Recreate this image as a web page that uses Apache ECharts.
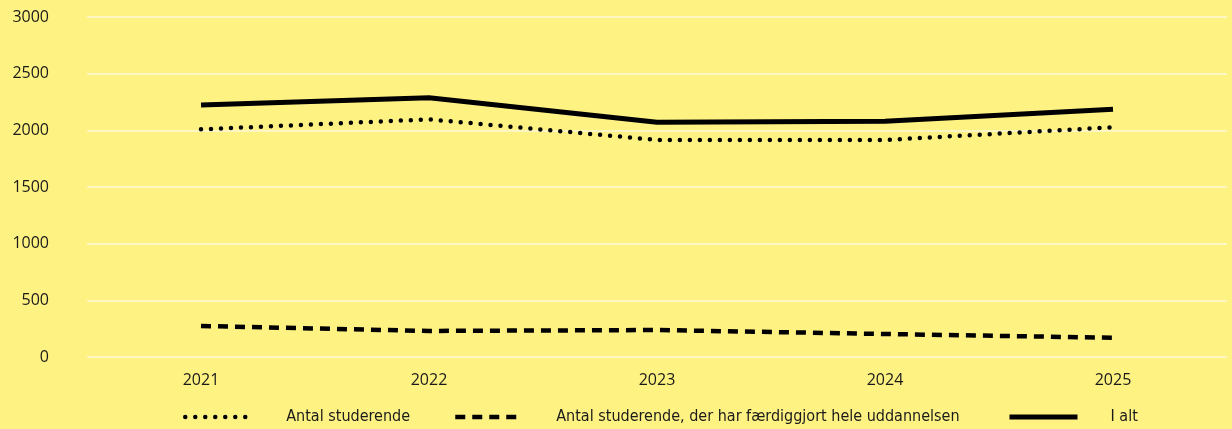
<!DOCTYPE html>
<html>
<head>
<meta charset="utf-8">
<script src="https://cdn.jsdelivr.net/npm/echarts@6/dist/echarts.min.js"></script>
<style>
html,body{margin:0;padding:0;background:#fef283;}
#c{width:1232px;height:429px;}
</style>
</head>
<body>
<div id="c"></div>
<script>
const categories = ['2021', '2022', '2023', '2024', '2025'];
const studerende = [2009, 2097, 1915, 1915, 2027];
const faerdige = [274, 230, 238, 203, 170];
const iAlt = [2224, 2288, 2071, 2080, 2186];
const seriesNames = ['Antal studerende', 'Antal studerende, der har færdiggjort hele uddannelsen', 'I alt'];
const yTicks = { min: 0, max: 3000, interval: 500 };

const chart = echarts.init(document.getElementById('c'), null, { renderer: 'canvas' });
const axisFont = '"Open Sans", Inter, sans-serif';
const legendFont = '"Liberation Sans Narrow", "DejaVu Sans Condensed", sans-serif';
const textColor = '#1a1a1a';

const dotted = { color: '#000', width: 4.5, type: [0, 10], cap: 'round' };
const dashed = { color: '#000', width: 4.5, type: [10, 7], cap: 'butt' };
const solid = { color: '#000', width: 5, type: 'solid', cap: 'butt' };

function legend(name, left, ls) {
  return {
    data: [name],
    left: left,
    top: 409,
    padding: 0,
    itemWidth: 68,
    itemHeight: 14,
    itemStyle: { opacity: 0 },
    lineStyle: Object.assign({}, ls),
    textStyle: { fontFamily: legendFont, fontSize: 16, color: textColor, padding: [0, 0, 0, 28] },
    selectedMode: false
  };
}

chart.setOption({
  backgroundColor: '#fef283',
  animation: false,
  grid: { left: 87, right: 5, top: 17, bottom: 72, containLabel: false },
  legend: [legend(seriesNames[0], 183, dotted), legend(seriesNames[1], 453, dashed), legend(seriesNames[2], 1007, solid)],
  xAxis: {
    type: 'category',
    data: categories,
    boundaryGap: true,
    axisLine: { show: false },
    axisTick: { show: false },
    axisLabel: { fontFamily: axisFont, fontSize: 16, color: textColor, margin: 15 }
  },
  yAxis: {
    type: 'value',
    min: yTicks.min,
    max: yTicks.max,
    interval: yTicks.interval,
    axisLine: { show: false },
    axisTick: { show: false },
    axisLabel: { fontFamily: axisFont, fontSize: 16, color: textColor, margin: 38, formatter: v => String(v) },
    splitLine: { lineStyle: { color: '#fff6c6', width: 2 } }
  },
  series: [
    { name: seriesNames[0], type: 'line', data: studerende, symbol: 'none', itemStyle: { color: '#000' }, lineStyle: dotted },
    { name: seriesNames[1], type: 'line', data: faerdige, symbol: 'none', itemStyle: { color: '#000' }, lineStyle: dashed },
    { name: seriesNames[2], type: 'line', data: iAlt, symbol: 'none', itemStyle: { color: '#000' }, lineStyle: solid }
  ]
});
</script>
</body>
</html>
